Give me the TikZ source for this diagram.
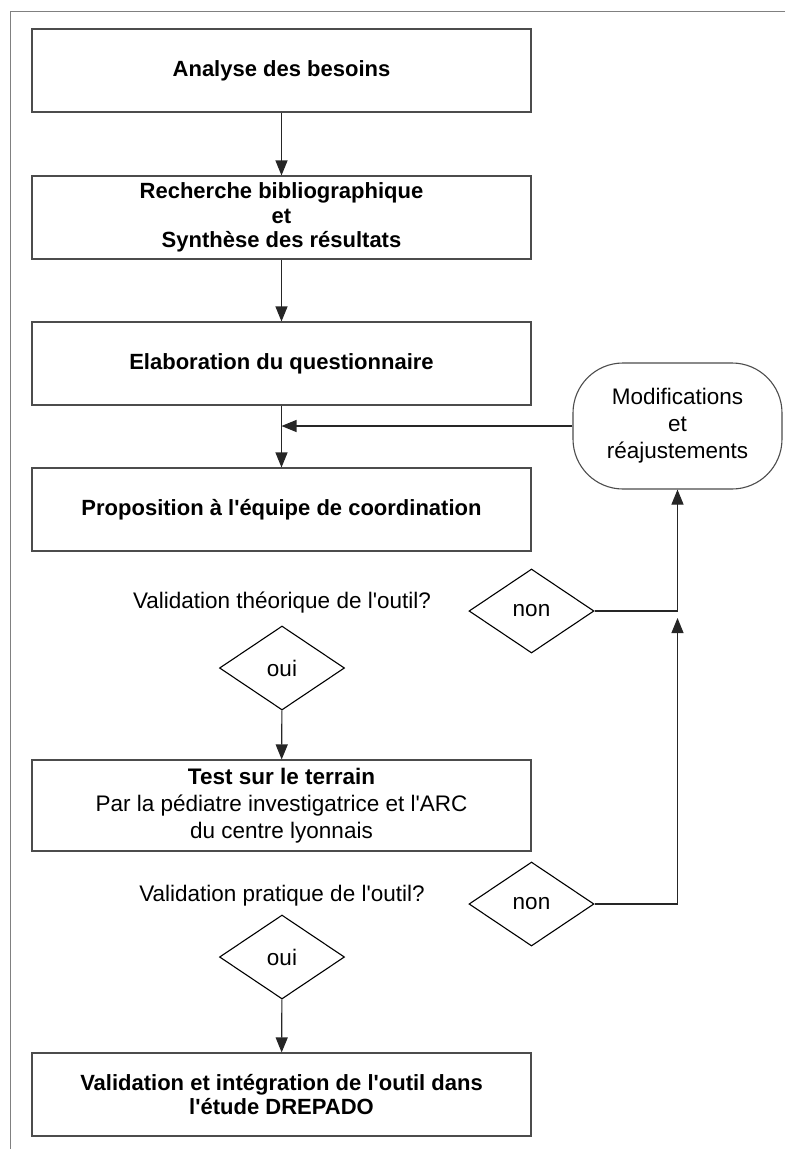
\documentclass[tikz,border=0pt]{standalone}
\usepackage{fontspec}
\setmainfont{Liberation Sans}[Ligatures=TeXOff]
\usetikzlibrary{shapes.geometric,arrows.meta}
\begin{document}
\begin{tikzpicture}[x=1pt,y=-1pt,
  box/.style={draw=black!70, line width=1.1pt, minimum width=499pt, minimum height=83pt,
    inner sep=0pt, align=center, font=\fontsize{22}{24.5}\selectfont\bfseries},
  plainbox/.style={box, font=\fontsize{22.5}{27}\selectfont},
  diam/.style={draw=black, line width=1.1pt, shape=diamond, minimum width=125pt,
    minimum height=84pt, inner sep=0pt, font=\fontsize{22.5}{27}\selectfont},
  roundbox/.style={draw=black!70, line width=1.1pt, rounded corners=50pt, minimum width=209pt,
    minimum height=126pt, inner sep=0pt, align=center, font=\fontsize{22.5}{27}\selectfont},
  qtext/.style={inner sep=0pt, font=\fontsize{22.5}{27}\selectfont},
  arr/.style={draw=black!85, line width=1.1pt, -{Triangle[length=15pt,width=12pt]}},
  link/.style={draw=black!70, line width=1.1pt}
]
\useasboundingbox (0,0) rectangle (785,1149);
\draw[black!50, line width=1pt] (785,11) -- (10,11) -- (10,1149);

\node[box] (b1) at (281.5,70.5) {Analyse des besoins};
\node[box] (b2) at (281.5,217.5) {Recherche bibliographique\\et\\Synth\`ese des r\'esultats};
\node[box] (b3) at (281.5,363.5) {Elaboration du questionnaire};
\node[box] (b4) at (281.5,509.5) {Proposition \`a l'\'equipe de coordination};
\node[roundbox] (mod) at (677.5,426) {Modifications\\et\\r\'eajustements};

\node[qtext] (q1) at (282,603) {Validation th\'eorique de l'outil?};
\node[diam] (non1) at (531.5,611) {non};
\node[diam] (oui1) at (282,668) {oui};

\node[plainbox, minimum height=91pt] (test) at (281.5,805.5)
  {\textbf{Test sur le terrain}\\Par la p\'ediatre investigatrice et l'ARC\\du centre lyonnais};

\node[qtext] (q2) at (282,896) {Validation pratique de l'outil?};
\node[diam] (non2) at (531.5,904) {non};
\node[diam] (oui2) at (282,957) {oui};

\node[box] (b5) at (281.5,1094.5) {Validation et int\'egration de l'outil dans\\l'\'etude DREPADO};

\coordinate (j2) at (677.5,618);

\draw[arr] (b1) -- (b2);
\draw[arr] (b2) -- (b3);
\draw[arr] (b3) -- (b4);
\draw[arr] (mod.west) -- (b3.south |- mod.west);
\draw[arr] (oui1) -- (test);
\draw[arr] (oui2) -- (b5);
\draw[arr] (non1.east) -| (mod.south);
\draw[arr] (non2.east) -| (j2);
\end{tikzpicture}
\end{document}
